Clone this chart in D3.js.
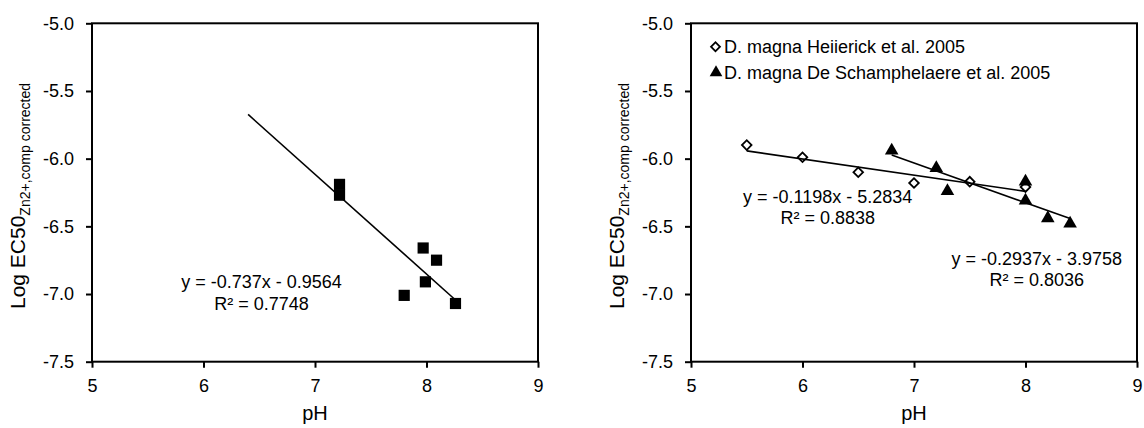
<!DOCTYPE html>
<html>
<head>
<meta charset="utf-8">
<script src="https://cdn.jsdelivr.net/npm/d3@7"></script>
<style>
  html, body { margin: 0; padding: 0; background: #fff; }
  svg { display: block; font-family: "Liberation Sans", Arial, sans-serif; }
</style>
</head>
<body>
<svg id="chart" width="1144" height="428"></svg>
<script>
// ---------- data ----------
const xTicks = [5, 6, 7, 8, 9];
const yTicks = [-5.0, -5.5, -6.0, -6.5, -7.0, -7.5];
const xTitle = "pH";

// Left panel
const phLeft   = [7.22, 7.22, 7.97, 8.09, 7.99, 7.80, 8.26];
const ec50Left = [-6.19, -6.27, -6.66, -6.75, -6.91, -7.01, -7.07];
const trendLeft = [-0.737, -0.9564];       // slope, intercept
const trendLeftRange = [6.4, 8.25];
const eqLeft = ["y = -0.737x - 0.9564", "R² = 0.7748"];

// Right panel
const seriesNames = ["D. magna Heiierick et al. 2005", "D. magna De Schamphelaere et al. 2005"];
const phHeijerick   = [5.5, 6.0, 6.5, 7.0, 7.5, 8.0];
const ec50Heijerick = [-5.90, -5.99, -6.10, -6.18, -6.17, -6.21];
const phDeSch   = [6.8, 7.2, 7.3, 8.0, 8.0, 8.2, 8.4];
const ec50DeSch = [-5.94, -6.07, -6.24, -6.17, -6.31, -6.44, -6.48];
const trendHeijerick = [-0.1198, -5.2834];
const trendHeijerickRange = [5.5, 8.0];
const trendDeSch = [-0.2937, -3.9758];
const trendDeSchRange = [6.8, 8.4];
const eqHeijerick = ["y = -0.1198x - 5.2834", "R² = 0.8838"];
const eqDeSch = ["y = -0.2937x - 3.9758", "R² = 0.8036"];

// ---------- drawing ----------
const svg = d3.select("#chart");
const panelTop = 23.3, panelBottom = 361.7;

function panel(left, right) {
  const x = d3.scaleLinear().domain([5, 9]).range([left, right]);
  const y = d3.scaleLinear().domain([-7.5, -5.0]).range([panelBottom, panelTop]);
  const g = svg.append("g");

  const xa = g.append("g").attr("transform", `translate(0,${panelBottom})`)
    .call(d3.axisBottom(x).tickValues(xTicks).tickFormat(d3.format("d")).tickSize(6).tickPadding(12));
  const ya = g.append("g").attr("transform", `translate(${left},0)`)
    .call(d3.axisLeft(y).tickValues(yTicks).tickFormat(d => d.toFixed(1)).tickSize(6).tickPadding(12));
  [xa, ya].forEach(a => {
    a.select(".domain").remove();
    a.selectAll(".tick line").attr("stroke", "#000").attr("stroke-width", 2);
    a.selectAll(".tick text").attr("fill", "#000").attr("font-size", 18)
      .attr("font-family", '"Liberation Sans", Arial, sans-serif');
  });

  g.append("rect").attr("x", left).attr("y", panelTop)
    .attr("width", right - left).attr("height", panelBottom - panelTop)
    .attr("fill", "none").attr("stroke", "#000").attr("stroke-width", 2);

  g.append("text").attr("x", (left + right) / 2).attr("y", 420)
    .attr("text-anchor", "middle").attr("font-size", 20).text(xTitle);

  const yt = g.append("text")
    .attr("transform", `translate(${left - 67},196) rotate(-90)`)
    .attr("text-anchor", "middle").attr("font-size", 21);
  yt.append("tspan").text("Log EC50");
  yt.append("tspan").attr("font-size", 14).attr("dy", 5).text("Zn2+,comp corrected");

  return { g, x, y };
}

function trend(p, coef, range) {
  const line = d3.line().x(d => p.x(d)).y(d => p.y(coef[0] * d + coef[1]));
  p.g.append("path").datum(range).attr("d", line)
    .attr("fill", "none").attr("stroke", "#000").attr("stroke-width", 1.6);
}

function equation(p, lines, cx, cy1, cy2) {
  [cy1, cy2].forEach((cy, i) => {
    p.g.append("text").attr("x", cx).attr("y", cy + 6.4)
      .attr("text-anchor", "middle").attr("font-size", 18).text(lines[i]);
  });
}

// ----- Left panel -----
const L = panel(92, 538);
L.g.append("g").selectAll("path").data(d3.zip(phLeft, ec50Left)).join("path")
  .attr("transform", d => `translate(${L.x(d[0])},${L.y(d[1])})`)
  .attr("d", d3.symbol(d3.symbolSquare, 125)())
  .attr("fill", "#000");
trend(L, trendLeft, trendLeftRange);
equation(L, eqLeft, 261.5, 281.7, 303.3);

// ----- Right panel -----
const R = panel(691, 1137);
const diamond = d3.symbol(d3.symbolSquare, 46)();
const tri = d3.symbol(d3.symbolTriangle, 80)();

R.g.append("g").selectAll("path").data(d3.zip(phHeijerick, ec50Heijerick)).join("path")
  .attr("transform", d => `translate(${R.x(d[0])},${R.y(d[1])}) rotate(45)`)
  .attr("d", diamond).attr("fill", "#fff").attr("stroke", "#000").attr("stroke-width", 1.8);
R.g.append("g").selectAll("path").data(d3.zip(phDeSch, ec50DeSch)).join("path")
  .attr("transform", d => `translate(${R.x(d[0])},${R.y(d[1])})`)
  .attr("d", tri).attr("fill", "#000");
trend(R, trendHeijerick, trendHeijerickRange);
trend(R, trendDeSch, trendDeSchRange);
equation(R, eqHeijerick, 827.7, 196.7, 217.7);
equation(R, eqDeSch, 1036.7, 259, 279.3);

// legend
const legend = R.g.append("g");
const legY = [46.7, 72.7];
legend.append("path").attr("transform", `translate(715.5,${legY[0]}) rotate(45)`)
  .attr("d", d3.symbol(d3.symbolSquare, 40)())
  .attr("fill", "#fff").attr("stroke", "#000").attr("stroke-width", 1.8);
legend.append("path").attr("transform", `translate(716,${legY[1]})`)
  .attr("d", d3.symbol(d3.symbolTriangle, 70)()).attr("fill", "#000");
seriesNames.forEach((name, i) => {
  legend.append("text").attr("x", 724).attr("y", legY[i] + 6.4)
    .attr("font-size", 18).text(name);
});
</script>
</body>
</html>
